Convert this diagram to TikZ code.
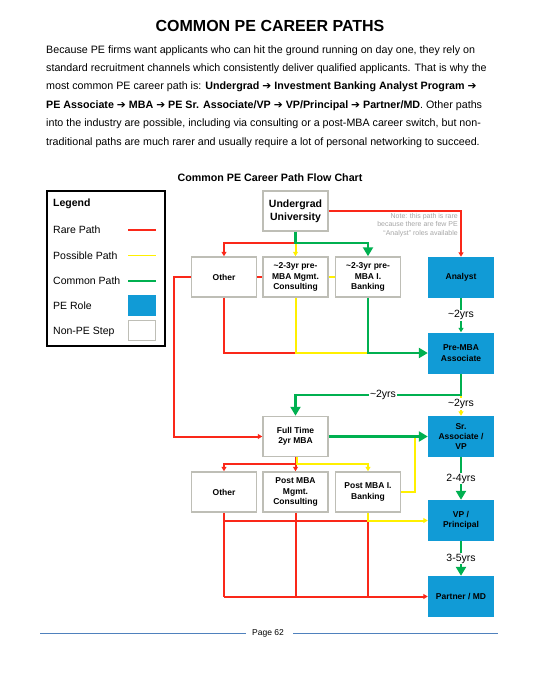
\documentclass[tikz,border=0pt]{standalone}
\usepackage{fontspec}
\setmainfont{Liberation Sans}
\newfontfamily\symfont{DejaVu Sans}
\usetikzlibrary{arrows.meta}
\definecolor{rpath}{RGB}{250,40,25}
\definecolor{ypath}{RGB}{255,240,0}
\definecolor{gpath}{RGB}{0,176,80}
\definecolor{peblue}{RGB}{17,155,214}
\definecolor{boxgrey}{RGB}{190,190,182}
\definecolor{notegrey}{RGB}{165,165,165}
\definecolor{footblue}{RGB}{79,129,189}
\newcommand{\pearrow}{{\symfont\char"2794}}
\tikzset{
  stepbox/.style={draw=boxgrey, line width=1.5pt, fill=white, minimum width=65pt, minimum height=40pt, inner sep=1pt, align=center, font=\fontsize{8.5}{10.3}\selectfont\bfseries},
  pebox/.style={fill=peblue, minimum width=66pt, minimum height=41pt, inner sep=1pt, align=center, font=\fontsize{8.5}{10.3}\selectfont\bfseries},
  rare/.style={draw=rpath, line width=2pt},
  possible/.style={draw=ypath, line width=2pt},
  common/.style={draw=gpath, line width=2.3pt},
  bigtip/.style={-{Triangle[width=10pt,length=9pt]}},
  smalltip/.style={-{Triangle[width=5pt,length=4.5pt]}},
  yrs/.style={fill=white, inner sep=1pt, font=\fontsize{10.5}{12}\selectfont},
  para/.style={anchor=base west, inner sep=0pt, font=\fontsize{10.7}{12}\selectfont},
  legtext/.style={anchor=west, inner sep=0pt, font=\fontsize{10.5}{12}\selectfont}
}
\begin{document}
\begin{tikzpicture}[x=1pt,y=-1pt]
\useasboundingbox (0,0) rectangle (541,686);
% title and text
\node[anchor=base, inner sep=0pt, font=\fontsize{16}{18}\selectfont\bfseries] (title) at (270,31) {COMMON PE CAREER PATHS};
\node[para] (p1) at (46,53) {Because PE firms want applicants who can hit the ground running on day one, they rely on};
\node[para] (p2) at (46,71.4) {standard recruitment channels which consistently deliver qualified applicants. That is why the};
\node[para] (p3) at (46,89.8) {most common PE career path is: \textbf{Undergrad \pearrow\ Investment Banking Analyst Program \pearrow}};
\node[para] (p4) at (46,108.2) {\textbf{PE Associate \pearrow\ MBA \pearrow\ PE Sr. Associate/VP \pearrow\ VP/Principal \pearrow\ Partner/MD}. Other paths};
\node[para] (p5) at (46,126.6) {into the industry are possible, including via consulting or a post-MBA career switch, but non-};
\node[para] (p6) at (46,145) {traditional paths are much rarer and usually require a lot of personal networking to succeed.};
\node[anchor=base, inner sep=0pt, font=\fontsize{10.7}{12}\selectfont\bfseries] (ctitle) at (270,181.5) {Common PE Career Path Flow Chart};
% legend
\draw[line width=1.6pt] (47,191) rectangle (165,346);
\node[legtext, font=\fontsize{10.5}{12}\selectfont\bfseries] (lg) at (53,204) {Legend};
\node[legtext] (lg1) at (53,230) {Rare Path};
\node[legtext] (lg2) at (53,255.5) {Possible Path};
\node[legtext] (lg3) at (53,281) {Common Path};
\node[legtext] (lg4) at (53,306) {PE Role};
\node[legtext] (lg5) at (53,332) {Non-PE Step};
\draw[draw=rpath, line width=1.5pt] (128,230) -- (156,230);
\draw[draw=ypath, line width=1.5pt] (128,255.5) -- (156,255.5);
\draw[draw=gpath, line width=1.5pt] (128,281) -- (156,281);
\fill[peblue] (128,295) rectangle (156,316);
\draw[draw=boxgrey, line width=1.5pt] (128.5,320.5) rectangle (155.5,340.5);
% nodes
\node[stepbox, font=\fontsize{10.5}{13}\selectfont\bfseries] (uni) at (295.5,211) {Undergrad\\University};
\node[stepbox] (oth1) at (224,277) {Other};
\node[stepbox] (cons1) at (295.5,277) {\textasciitilde2-3yr pre-\\MBA Mgmt.\\Consulting};
\node[stepbox] (bank1) at (368,277) {\textasciitilde2-3yr pre-\\MBA I.\\Banking};
\node[pebox] (analyst) at (461,277.5) {Analyst};
\node[pebox] (premba) at (461,353) {Pre-MBA\\Associate};
\node[stepbox] (mba) at (295.5,436.5) {Full Time\\2yr MBA};
\node[pebox] (srvp) at (461,436.5) {Sr.\\Associate /\\VP};
\node[stepbox] (oth2) at (224,492) {Other};
\node[stepbox] (cons2) at (295.5,492) {Post MBA\\Mgmt.\\Consulting};
\node[stepbox] (bank2) at (368,492) {Post MBA I.\\Banking};
\node[pebox] (vp) at (461,520.5) {VP /\\Principal};
\node[pebox] (partner) at (461,596.5) {Partner / MD};
% junction coordinates
\coordinate (j1) at (295.5,243);
\coordinate (l1) at (174,277);
\coordinate (j2) at (295.5,353);
\coordinate (j3) at (368,353);
\coordinate (j4) at (461,395);
\coordinate (j5) at (415,436.5);
\coordinate (j6) at (295.5,464);
\coordinate (j6b) at (297,464);
\coordinate (j7) at (224,520.5);
\coordinate (j8) at (368,520.5);
\coordinate (j9) at (224,596.5);
\coordinate (j10) at (295.5,596.5);
\coordinate (j11) at (368,596.5);
% top connectors
\draw[rare, line width=1.7pt, smalltip] (uni.east) -| (analyst.north);
\node[anchor=north east, inner sep=0pt, align=right, text=notegrey, font=\fontsize{7}{8.5}\selectfont] (note) at (458,213) {Note: this path is rare\\because there are few PE\\“Analyst” roles available};
\draw[rare, smalltip] (j1) -| (oth1.north);
\draw[possible, smalltip] (j1) -- (cons1.north);
\draw[common, bigtip] (uni.south) -- (j1) -| (bank1.north);
\draw[rare] (oth1.east) -- (cons1.west);
\draw[possible] (cons1.east) -- (bank1.west);
\draw[rare, smalltip] (oth1.west) -- (l1) |- (mba.west);
\draw[rare] (oth1.south) |- (j2);
\draw[possible] (cons1.south) -- (j2) -- (j3);
\draw[common, bigtip] (bank1.south) -- (j3) -- (premba.west);
\draw[common, line width=2pt, smalltip] (analyst.south) -- (premba.north) node[yrs, midway] (y1) {\textasciitilde2yrs};
\draw[possible, smalltip] (premba.south) -- (srvp.north);
\draw[common, bigtip] (premba.south) -- (j4) -| (mba.north);
\node[yrs] (y2) at (383,395) {\textasciitilde2yrs};
\node[yrs] (y3) at (461,404) {\textasciitilde2yrs};
% middle connectors
\draw[possible] (bank2.east) -| (j5);
\draw[common, bigtip] (mba.east) -- (srvp.west);
\draw[rare] (mba.south) -- (j6);
\draw[rare, smalltip] (j6) -| (oth2.north);
\draw[rare, smalltip] (j6) -- (cons2.north);
\draw[possible, line width=1.5pt, smalltip] ([xshift=1.5pt]mba.south) -- (j6b) -| (bank2.north);
% bottom connectors
\draw[rare] (oth2.south) -- (j9);
\draw[rare] (cons2.south) -- (j10);
\draw[rare] (j7) -- (j8) -- (j11);
\draw[rare, smalltip] (j9) -- (partner.west);
\draw[possible, smalltip] (bank2.south) |- (vp.west);
\draw[common, bigtip] (srvp.south) -- (vp.north) node[yrs, midway] (y4) {2-4yrs};
\draw[common, bigtip] (vp.south) -- (partner.north) node[yrs, midway] (y5) {3-5yrs};
% footer
\node[inner sep=0pt, font=\fontsize{8.5}{10}\selectfont] (page) at (268,633) {Page 62};
\draw[footblue, line width=0.8pt] (40,633) -- (246,633);
\draw[footblue, line width=0.8pt] (293,633) -- (498,633);
\end{tikzpicture}
\end{document}
